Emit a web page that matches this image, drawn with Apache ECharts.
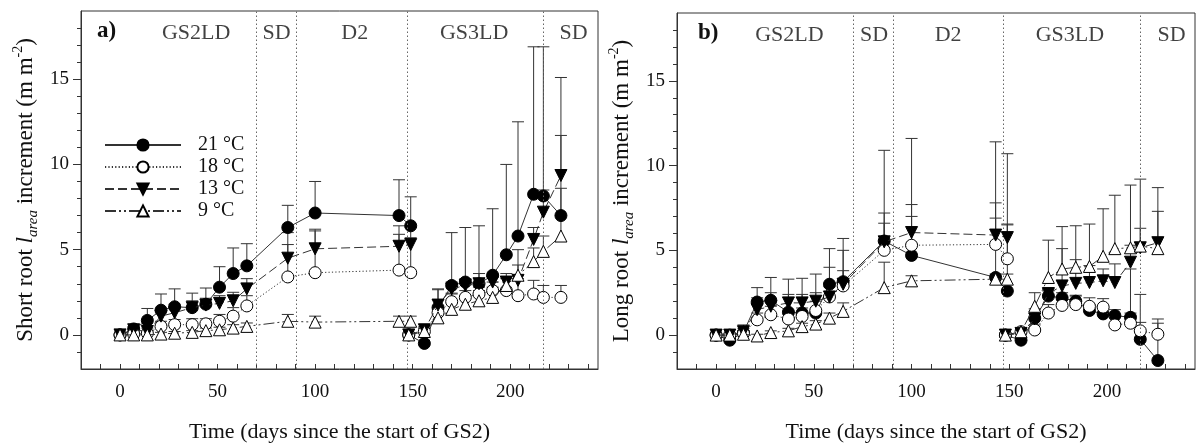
<!DOCTYPE html>
<html><head><meta charset="utf-8">
<script src="https://cdn.jsdelivr.net/npm/echarts@6/dist/echarts.min.js"></script>
<style>html,body{margin:0;padding:0;background:#fff}#c{width:1196px;height:448px}</style>
</head><body><div id="c"></div>
<script>
// ---------------- data ----------------
const TEMPS = ['21 °C', '18 °C', '13 °C', '9 °C'];
const DAYS_GS2 = [0, 7, 14, 21, 28, 37, 44, 51, 58, 65, 86, 100, 143, 149];
const DAYS_GS3 = [148, 156, 163, 170, 177, 184, 191, 198, 204, 212, 217, 226];
const X_LABELS = [0, 50, 100, 150, 200];
const Y_LABELS = [0, 5, 10, 15];
const PERIOD_NAMES = ['GS2LD', 'SD', 'D2', 'GS3LD', 'SD'];
const PERIOD_BOUNDS = [70, 90.5, 147, 217];
const PERIOD_LABEL_X_A = [39, 80.3, 120.3, 181.5, 232.5];
const PERIOD_LABEL_X_B = [37.5, 80.8, 118.7, 181, 233];
const PANEL_TAGS = ['a)', 'b)'];

// Short root l_area increment (panel a): GS2 (14) then GS3 (12)
const SHORT_21 = [0, 0.35, 0.85, 1.45, 1.65, 1.6, 1.8, 2.8, 3.6, 4.05, 6.3, 7.15, 7.0, 6.4,
                  0, -0.5, 1.6, 2.9, 3.1, 3.0, 3.5, 4.7, 5.8, 8.25, 8.15, 7.0];
const SHORT_21_SE = [0, 0.15, 0.7, 0.95, 1.05, 0.85, 0.95, 1.2, 1.5, 1.3, 1.3, 1.85, 2.1, 1.7,
                     0, 0.9, 1.1, 3.1, 3.2, 3.4, 3.9, 5.3, 6.7, 8.65, 8.75, 4.7];
const SHORT_18 = [0, 0.05, 0.1, 0.5, 0.6, 0.6, 0.65, 0.8, 1.1, 1.7, 3.4, 3.65, 3.8, 3.65,
                  0, 0.2, 1.3, 1.95, 2.2, 2.4, 2.6, 2.6, 2.3, 2.4, 2.2, 2.2];
const SHORT_18_SE = [0, 0.1, 0.15, 0.3, 0.3, 0.35, 0.3, 0.4, 0.5, 0.6, 1.9, 2.45, 2.1, 2.05,
                     0, 0.2, 0.4, 0.5, 0.4, 0.4, 0.5, 0.7, 1.0, 0.8, 0.7, 0.7];
const SHORT_13 = [0, 0.3, 0.2, 1.1, 1.3, 1.6, 1.75, 1.85, 2.0, 2.7, 4.5, 5.05, 5.2, 5.3,
                  0, 0.3, 1.75, 2.7, 2.9, 3.0, 3.1, 3.1, 3.2, 5.6, 7.2, 9.35];
const SHORT_13_SE = [0, 0.1, 0.2, 0.4, 0.5, 0.4, 0.4, 0.45, 0.5, 0.6, 1.5, 1.15, 1.2, 1.0,
                     0, 0.2, 0.9, 0.4, 0.4, 0.6, 0.4, 0.5, 1.8, 0.7, 1.3, 5.75];
const SHORT_9 = [0, 0, 0, 0.05, 0.1, 0.15, 0.25, 0.3, 0.4, 0.5, 0.8, 0.75, 0.8, 0.8,
                 0, 0.2, 1.0, 1.5, 1.8, 2.0, 2.2, 2.9, 3.5, 4.3, 4.9, 5.8];
const SHORT_9_SE = [0, 0.05, 0.05, 0.1, 0.1, 0.1, 0.15, 0.15, 0.2, 0.2, 0.4, 0.35, 0.3, 0.3,
                    0, 0.2, 0.5, 0.9, 0.5, 0.6, 0.6, 0.5, 0.6, 0.8, 0.9, 2.8];

// Long root l_area increment (panel b)
const LONG_21 = [0, -0.3, 0.15, 1.95, 2.05, 1.35, 1.3, 1.3, 3.0, 3.15, 5.55, 4.7, 3.4, 2.6,
                 0, -0.3, 1.0, 2.3, 2.2, 2.0, 1.45, 1.25, 1.15, 1.05, -0.25, -1.5];
const LONG_21_SE = [0, 0.2, 0.45, 0.85, 1.35, 1.95, 2.05, 2.3, 2.1, 2.55, 5.35, 6.9, 8.0, 8.1,
                    0, 0.2, 0.4, 0.3, 0.3, 0.3, 0.35, 0.35, 0.35, 2.85, 2.65, 2.2];
const LONG_18 = [0, 0, 0.1, 0.9, 1.2, 0.95, 1.1, 1.45, 2.25, 2.9, 5.0, 5.3, 5.35, 4.5,
                 0, 0.2, 0.3, 1.3, 1.75, 1.8, 1.7, 1.65, 0.6, 0.7, 0.25, 0.05];
const LONG_18_SE = [0, 0.1, 0.15, 0.4, 0.5, 0.45, 0.5, 0.55, 0.6, 0.9, 1.6, 1.7, 1.55, 2.0,
                    0, 0.2, 0.3, 0.5, 0.5, 0.55, 0.5, 0.5, 0.5, 0.6, 0.5, 0.9];
const LONG_13 = [0, 0, 0.2, 1.5, 1.7, 1.9, 1.9, 2.0, 2.25, 3.0, 5.5, 6.05, 5.9, 5.75,
                 0, 0.1, 0.95, 2.45, 2.9, 3.05, 3.1, 3.2, 3.1, 4.3, 5.15, 5.45];
const LONG_13_SE = [0, 0.1, 0.2, 0.7, 0.8, 0.5, 0.5, 0.5, 1.75, 2.0, 1.7, 1.65, 1.9, 0.8,
                    0, 0.15, 0.6, 0.3, 2.2, 1.4, 1.0, 0.7, 1.1, 1.0, 1.15, 3.25];
const LONG_9 = [0, 0, 0.05, -0.05, 0.15, 0.25, 0.5, 0.65, 1.0, 1.4, 2.8, 3.2, 3.3, 3.3,
                0, 0.2, 1.7, 3.4, 3.9, 4.0, 4.05, 4.65, 5.1, 5.15, 5.25, 5.1];
const LONG_9_SE = [0, 0.05, 0.1, 0.1, 0.1, 0.15, 0.2, 0.2, 0.3, 0.5, 1.5, 0.3, 0.3, 0.3,
                   0, 0.1, 0.8, 2.2, 2.5, 2.45, 2.5, 2.8, 3.15, 3.7, 3.95, 2.2];

// ---------------- chart ----------------
const FONT = "'Liberation Serif','Times New Roman',serif";
const INK = '#111';
const LINE = '#333';
const PANELS = [
  { vals: [SHORT_21, SHORT_18, SHORT_13, SHORT_9], se: [SHORT_21_SE, SHORT_18_SE, SHORT_13_SE, SHORT_9_SE],
    rootWord: 'Short root ', labelX: PERIOD_LABEL_X_A },
  { vals: [LONG_21, LONG_18, LONG_13, LONG_9], se: [LONG_21_SE, LONG_18_SE, LONG_13_SE, LONG_9_SE],
    rootWord: 'Long root ', labelX: PERIOD_LABEL_X_B }
];
const STYLES = [
  { symbol: 'circle', rotate: 0, fill: '#000', dash: 'solid' },
  { symbol: 'circle', rotate: 0, fill: '#fff', dash: [1.2, 2.2] },
  { symbol: 'triangle', rotate: 180, fill: '#000', dash: [9, 4] },
  { symbol: 'triangle', rotate: 0, fill: '#fff', dash: [11, 3, 2, 3, 2, 3] }
];

function range(a, b, step) { const r = []; for (let v = a; v <= b + 1e-9; v += step) r.push(v); return r; }

function renderErr(params, api) {
  const x = api.value(0), y = api.value(1), t = api.value(2);
  const p0 = api.coord([x, y]);
  const p1 = api.coord([x, t]);
  const h = 6;
  return { type: 'group', children: [
    { type: 'line', shape: { x1: p0[0], y1: p0[1], x2: p1[0], y2: p1[1] }, style: { stroke: LINE, lineWidth: 1 } },
    { type: 'line', shape: { x1: p1[0] - h, y1: p1[1], x2: p1[0] + h, y2: p1[1] }, style: { stroke: LINE, lineWidth: 1 } }
  ]};
}

const grids = [
  { left: 81, top: 11, width: 517, height: 361 },
  { left: 677, top: 13, width: 518, height: 361 }
];
grids.forEach(g => { g.show = true; g.borderColor = LINE; g.borderWidth = 1; g.backgroundColor = 'transparent'; });

const xAxes = [], yAxes = [], series = [], graphics = [];
PANELS.forEach((P, p) => {
  xAxes.push({
    type: 'value', gridIndex: p, min: -20, max: 245, position: 'bottom',
    axisLine: { show: true, onZero: false, lineStyle: { color: LINE, width: 1 } },
    axisTick: { show: true, inside: true, length: 5, customValues: range(-10, 240, 10), lineStyle: { color: LINE } },
    axisLabel: { customValues: X_LABELS, fontFamily: FONT, fontSize: 19, color: INK, margin: 14 },
    splitLine: { show: false },
    name: 'Time (days since the start of GS2)', nameLocation: 'middle', nameGap: 52,
    nameTextStyle: { fontFamily: FONT, fontSize: 22, color: INK }
  });
  yAxes.push({
    type: 'value', gridIndex: p, min: -2, max: 19, position: 'left',
    axisLine: { show: true, onZero: false, lineStyle: { color: LINE, width: 1 } },
    axisTick: { show: true, inside: false, length: 4, customValues: range(-1, 18, 1), lineStyle: { color: LINE } },
    axisLabel: { customValues: Y_LABELS, fontFamily: FONT, fontSize: 19, color: INK, margin: 12 },
    splitLine: { show: false },
    name: '{t|' + P.rootWord + '}{i|l}{s|area}{t| increment (m m}{p|-2}{t|)}',
    nameLocation: 'middle', nameGap: 40,
    nameTextStyle: {
      fontFamily: FONT, fontSize: 23, color: INK,
      rich: {
        t: { fontFamily: FONT, fontSize: 23, color: INK, lineHeight: 30 },
        i: { fontFamily: FONT, fontSize: 23, fontStyle: 'italic', color: INK, lineHeight: 30 },
        s: { fontFamily: FONT, fontSize: 15, fontStyle: 'italic', color: INK, lineHeight: 16, verticalAlign: 'bottom' },
        p: { fontFamily: FONT, fontSize: 14, color: INK, lineHeight: 14, verticalAlign: 'top' }
      }
    }
  });
  yAxes.push({
    type: 'value', gridIndex: p, min: -2, max: 19, position: 'left', offset: 0,
    axisLine: { show: false, onZero: false },
    axisTick: { show: true, inside: false, length: 8, customValues: Y_LABELS, lineStyle: { color: LINE } },
    axisLabel: { show: false }, splitLine: { show: false }
  });
  const yi = p * 2;

  // period labels + boundaries
  series.push({
    type: 'scatter', xAxisIndex: p, yAxisIndex: yi, symbolSize: 0, silent: true, z: 1,
    data: PERIOD_NAMES.map((n, i) => ({ name: n, value: [P.labelX[i], 17.7] })),
    label: { show: true, position: 'inside', formatter: d => d.name, fontFamily: FONT, fontSize: 22, color: INK },
    markLine: {
      silent: true, symbol: ['none', 'none'], label: { show: false },
      lineStyle: { type: [1.5, 2.5], color: '#666', width: 1 },
      data: PERIOD_BOUNDS.map(b => ({ xAxis: b }))
    },
    animation: false
  });

  TEMPS.forEach((name, t) => {
    const S = STYLES[t];
    const vals = P.vals[t], se = P.se[t];
    [[DAYS_GS2, 0], [DAYS_GS3, DAYS_GS2.length]].forEach(([days, off]) => {
      const pts = days.map((d, i) => [d, vals[off + i]]);
      const errs = days.map((d, i) => [d, vals[off + i], vals[off + i] + se[off + i], se[off + i]])
                       .filter(e => e[3] > 0);
      series.push({
        type: 'custom', xAxisIndex: p, yAxisIndex: yi, renderItem: renderErr,
        encode: { x: 0, y: [1, 2] }, data: errs, z: 2, silent: true, animation: false
      });
      series.push({
        type: 'line', name: name, xAxisIndex: p, yAxisIndex: yi, data: pts,
        symbol: S.symbol, symbolRotate: S.rotate, symbolSize: 12, showSymbol: true,
        lineStyle: { color: LINE, width: 1, type: S.dash },
        itemStyle: { color: S.fill, borderColor: '#000', borderWidth: 1 },
        z: 3 + t, silent: true, animation: false
      });
    });
  });
});

graphics.push({ type: 'text', left: 97, top: 20, style: { text: PANEL_TAGS[0], font: 'bold 23px ' + FONT, fill: INK } });
graphics.push({ type: 'text', left: 698, top: 22, style: { text: PANEL_TAGS[1], font: 'bold 23px ' + FONT, fill: INK } });

const option = {
  backgroundColor: '#fff',
  animation: false,
  grid: grids,
  xAxis: xAxes,
  yAxis: yAxes,
  legend: {
    data: TEMPS, orient: 'vertical', left: 99, top: 130,
    itemWidth: 76, itemHeight: 14, itemGap: 2, selectedMode: false,
    textStyle: { fontFamily: FONT, fontSize: 20, color: INK, lineHeight: 20, padding: [0, 0, 0, 12] }
  },
  graphic: graphics,
  series: series
};
const chart = echarts.init(document.getElementById('c'));
chart.setOption(option);
</script>
</body></html>
